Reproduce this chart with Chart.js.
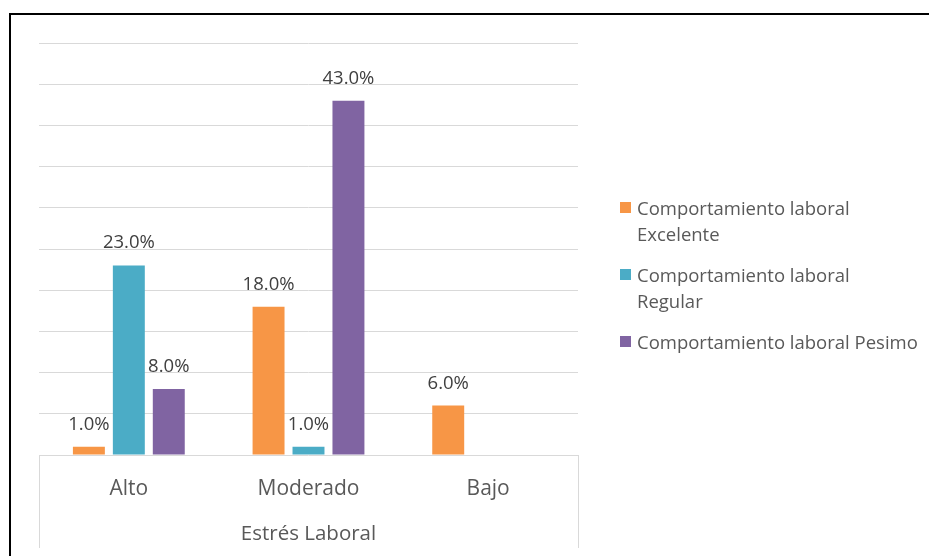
<!DOCTYPE html>
<html>
<head>
<meta charset="utf-8">
<script src="https://cdn.jsdelivr.net/npm/chart.js@4.4.1/dist/chart.umd.min.js"></script>
<style>
  html, body { margin: 0; padding: 0; background: #fff; overflow: hidden; }
  #wrap { position: relative; width: 929px; height: 556px; }
  #frame { position: absolute; left: 9px; top: 13px; width: 1000px; height: 1000px;
           border-top: 2px solid #000; border-left: 2px solid #000; }
  #chart { position: absolute; left: 0; top: 0; }
  #legend { position: absolute; left: 620px; top: 195px; width: 309px;
            font-family: 'Open Sans', sans-serif; font-size: 18.5px; line-height: 26px; color: #595959; }
  .item { position: relative; padding-left: 17px; margin-bottom: 15px; width: 281.5px; }
  .box { position: absolute; left: 0; top: 7px; width: 11px; height: 11px; }
</style>
</head>
<body>
<div id="wrap">
  <div id="frame"></div>
  <canvas id="chart" width="929" height="556"></canvas>
  <div id="legend"></div>
</div>
<script>
const categories = ['Alto', 'Moderado', 'Bajo'];
const seriesNames = ['Comportamiento laboral Excelente', 'Comportamiento laboral Regular', 'Comportamiento laboral Pesimo'];
const excelente = [1, 18, 6];
const regular = [23, 1, null];
const pesimo = [8, 43, null];
const seriesColors = ['#F79646', '#4BACC6', '#8064A2'];
const axisTitle = 'Estrés Laboral';
const yMax = 50;
const yStep = 5;

// data labels above bars
const valueLabels = {
  id: 'valueLabels',
  afterDatasetsDraw(chart) {
    const ctx = chart.ctx;
    ctx.save();
    ctx.font = '18.5px "Open Sans"';
    ctx.fillStyle = '#404040';
    ctx.textAlign = 'center';
    ctx.textBaseline = 'alphabetic';
    chart.data.datasets.forEach((ds, i) => {
      chart.getDatasetMeta(i).data.forEach((bar, j) => {
        const v = ds.data[j];
        if (v === null) return;
        ctx.fillText(v.toFixed(1) + '%', bar.x, bar.y - 17);
      });
    });
    ctx.restore();
  }
};

// outer separators of the category axis
const axisSeparators = {
  id: 'axisSeparators',
  afterDraw(chart) {
    const { ctx, chartArea } = chart;
    ctx.save();
    ctx.strokeStyle = '#d9d9d9';
    ctx.lineWidth = 1;
    ctx.beginPath();
    [chartArea.left, chartArea.right].forEach(x => {
      ctx.moveTo(Math.round(x) + 0.5, chartArea.bottom);
      ctx.lineTo(Math.round(x) + 0.5, chartArea.bottom + 93);
    });
    ctx.stroke();
    ctx.restore();
  }
};

const datasets = [excelente, regular, pesimo].map((d, i) => ({
  label: seriesNames[i],
  data: d,
  backgroundColor: seriesColors[i],
  categoryPercentage: 0.667,
  barPercentage: 0.8
}));

const chart = new Chart(document.getElementById('chart'), {
  type: 'bar',
  data: { labels: categories, datasets },
  options: {
    responsive: false,
    animation: false,
    layout: { padding: { left: 39, top: 43, right: 351, bottom: 0 } },
    plugins: { legend: { display: false }, tooltip: { enabled: false } },
    scales: {
      x: {
        grid: { display: false },
        border: { display: false },
        ticks: { color: '#595959', font: { family: 'Open Sans', size: 21 }, padding: 13 },
        title: { display: true, text: axisTitle, color: '#595959',
                 font: { family: 'Open Sans', size: 20.5 }, padding: { top: 4, bottom: 10 } },
        afterFit: s => { s.height = 101; }
      },
      y: {
        min: 0,
        max: yMax,
        ticks: { display: false, stepSize: yStep },
        grid: { color: '#d9d9d9', lineWidth: 1, drawTicks: false },
        border: { display: false },
        afterFit: s => { s.width = 0; }
      }
    }
  },
  plugins: [valueLabels, axisSeparators]
});

// HTML legend (wrapped text like the original)
const legend = document.getElementById('legend');
chart.data.datasets.forEach(ds => {
  const item = document.createElement('div');
  item.className = 'item';
  const box = document.createElement('span');
  box.className = 'box';
  box.style.background = ds.backgroundColor;
  item.appendChild(box);
  item.appendChild(document.createTextNode(ds.label));
  legend.appendChild(item);
});
</script>
</body>
</html>
